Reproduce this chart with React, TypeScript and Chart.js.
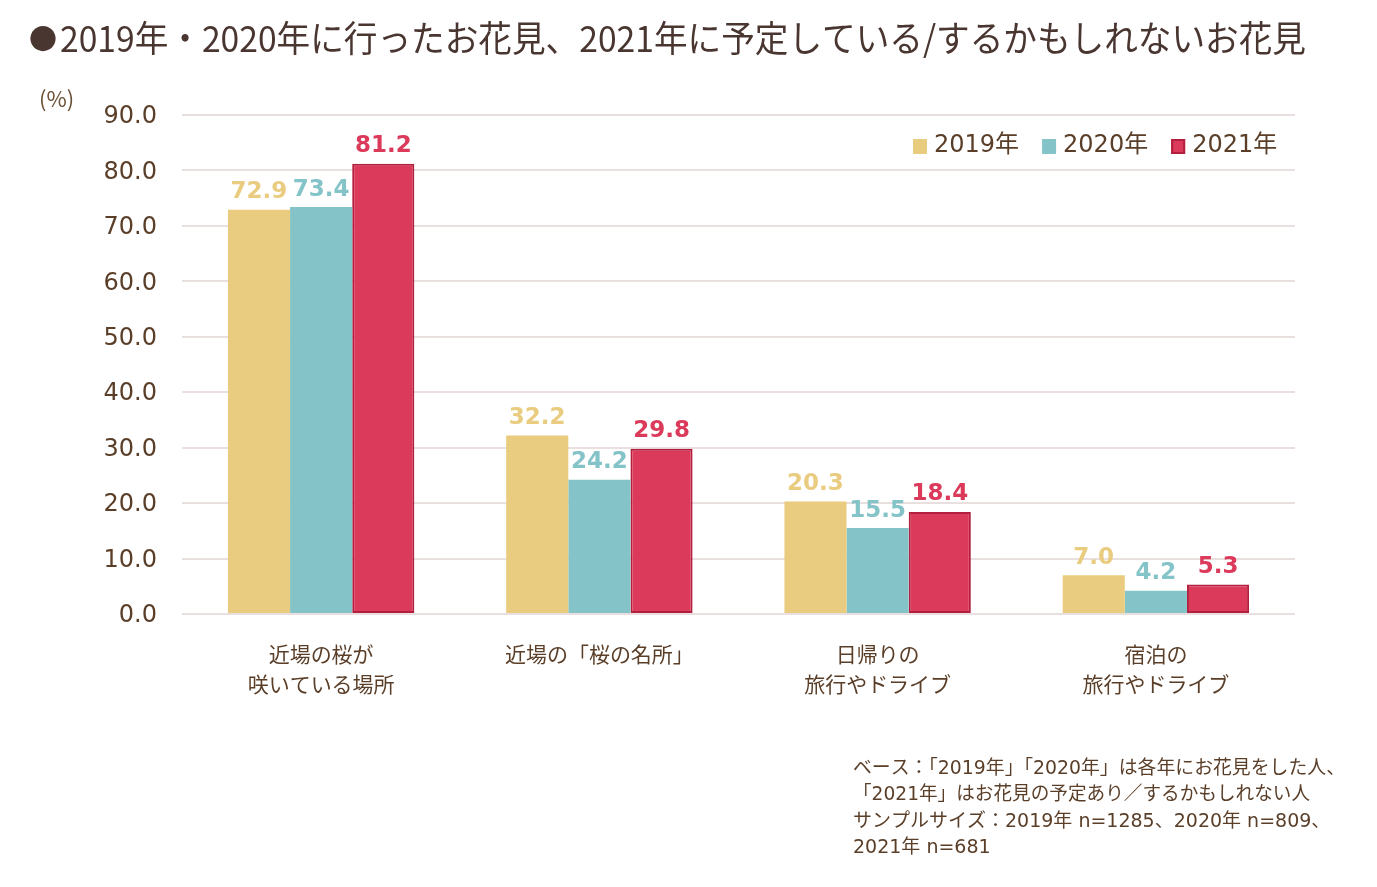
import React, { useEffect, useRef } from "react";
import { Chart, registerables } from "chart.js";

Chart.register(...registerables);

// Categories (multi-line x labels)
const categories: string[][] = [
  ["近場の桜が", "咲いている場所"],
  ["近場の「桜の名所」"],
  ["日帰りの", "旅行やドライブ"],
  ["宿泊の", "旅行やドライブ"],
];

const seriesNames = ["2019年", "2020年", "2021年"];
const values2019 = [72.9, 32.2, 20.3, 7.0];
const values2020 = [73.4, 24.2, 15.5, 4.2];
const values2021 = [81.2, 29.8, 18.4, 5.3];

const yMin = 0;
const yMax = 90;
const yStep = 10;

const titleBullet = "●";
const titleText =
  "2019年・2020年に行ったお花見、2021年に予定している/するかもしれないお花見";
const unitText = "(%)";
const noteLines = [
  "ベース：「2019年」「2020年」は各年にお花見をした人、",
  "「2021年」はお花見の予定あり／するかもしれない人",
  "サンプルサイズ：2019年 n=1285、2020年 n=809、",
  "2021年 n=681",
];

const W = 1377;
const H = 887;

const BROWN = "#5A3E28";
const TITLE_COLOR = "#4A3630";
const GRID = "#E9DFDF";
const COLORS = ["#E9CC7F", "#84C3C8", "#DB3A5A"];
const BORDERS = ["#E9CC7F", "#84C3C8", "#B31F3E"];
const BORDER_WIDTHS = [0, 0, 2];

const CJK = "'Noto Sans CJK JP', 'Noto Sans', sans-serif";
const LATIN = "'DejaVu Sans', 'Noto Sans CJK JP', sans-serif";

const decorPlugin = {
  id: "decor",
  afterDatasetsDraw(chart: any) {
    const ctx = chart.ctx as CanvasRenderingContext2D;
    ctx.save();
    // value labels above each bar
    ctx.font = `bold 23px ${LATIN}`;
    ctx.textAlign = "center";
    ctx.textBaseline = "bottom";
    chart.data.datasets.forEach((ds: any, di: number) => {
      const meta = chart.getDatasetMeta(di);
      meta.data.forEach((el: any, i: number) => {
        const v = ds.data[i] as number;
        ctx.fillStyle = COLORS[di];
        ctx.fillText(v.toFixed(1), el.x, el.y - 6);
      });
    });
    ctx.restore();
  },
  afterDraw(chart: any) {
    const ctx = chart.ctx as CanvasRenderingContext2D;
    ctx.save();

    // title: bullet + heading text
    ctx.fillStyle = TITLE_COLOR;
    ctx.textAlign = "left";
    ctx.textBaseline = "middle";
    ctx.font = `28px ${CJK}`;
    ctx.fillText(titleBullet, 29, 39);
    ctx.font = `36px ${CJK}`;
    ctx.fillText(titleText, 60, 38, 1246);

    // unit
    ctx.fillStyle = "#6B5035";
    ctx.font = `22px ${CJK}`;
    ctx.fillText(unitText, 39, 99);

    // legend
    ctx.font = `24px ${LATIN}`;
    let x = 913;
    const ly = 146;
    chart.data.datasets.forEach((ds: any, di: number) => {
      ctx.fillStyle = COLORS[di];
      ctx.fillRect(x, ly - 7, 14, 15);
      if (BORDER_WIDTHS[di] > 0) {
        ctx.strokeStyle = BORDERS[di];
        ctx.lineWidth = 2;
        ctx.strokeRect(x + 1, ly - 6, 12, 13);
      }
      ctx.fillStyle = BROWN;
      ctx.textBaseline = "middle";
      ctx.fillText(ds.label, x + 21, ly);
      x += 21 + ctx.measureText(ds.label).width + 23;
    });

    // footnote
    ctx.fillStyle = BROWN;
    ctx.font = `19px ${LATIN}`;
    ctx.textBaseline = "middle";
    const noteWidths = [492, 457, 517, 156];
    noteLines.forEach((line, i) => {
      ctx.fillText(line, 853, 769 + i * 26.3, noteWidths[i]);
    });

    ctx.restore();
  },
};

export default function App() {
  const ref = useRef<HTMLCanvasElement | null>(null);

  useEffect(() => {
    if (!ref.current) return;
    const chart = new Chart(ref.current, {
      type: "bar",
      data: {
        labels: categories,
        datasets: [values2019, values2020, values2021].map((vals, i) => ({
          label: seriesNames[i],
          data: vals,
          backgroundColor: COLORS[i],
          borderColor: BORDERS[i],
          borderWidth: BORDER_WIDTHS[i],
          borderSkipped: false,
          categoryPercentage: 0.67,
          barPercentage: 1.0,
        })),
      },
      options: {
        responsive: false,
        animation: false,
        devicePixelRatio: 1,
        layout: { padding: { top: 115, right: 82, left: 0, bottom: 0 } },
        plugins: {
          legend: { display: false },
          title: { display: false },
          tooltip: { enabled: false },
        },
        scales: {
          x: {
            grid: { display: false },
            border: { display: false },
            ticks: {
              color: BROWN,
              font: { family: CJK, size: 21, lineHeight: 1.42 },
              padding: 17,
              maxRotation: 0,
              autoSkip: false,
            },
            afterFit(scale: any) {
              scale.height = H - 614;
            },
          },
          y: {
            min: yMin,
            max: yMax,
            grid: { color: GRID, lineWidth: 2, drawTicks: false },
            border: { display: false },
            ticks: {
              stepSize: yStep,
              color: BROWN,
              font: { family: LATIN, size: 24 },
              padding: 25,
              labelOffset: 2,
              callback: (v: any) => Number(v).toFixed(1),
            },
            afterFit(scale: any) {
              scale.width = 182;
            },
          },
        },
      },
      plugins: [decorPlugin],
    });
    return () => chart.destroy();
  }, []);

  return (
    <div
      style={{
        position: "fixed",
        left: 0,
        top: 0,
        width: W,
        height: H,
        background: "#ffffff",
      }}
    >
      <canvas ref={ref} width={W} height={H} style={{ display: "block" }} />
    </div>
  );
}
